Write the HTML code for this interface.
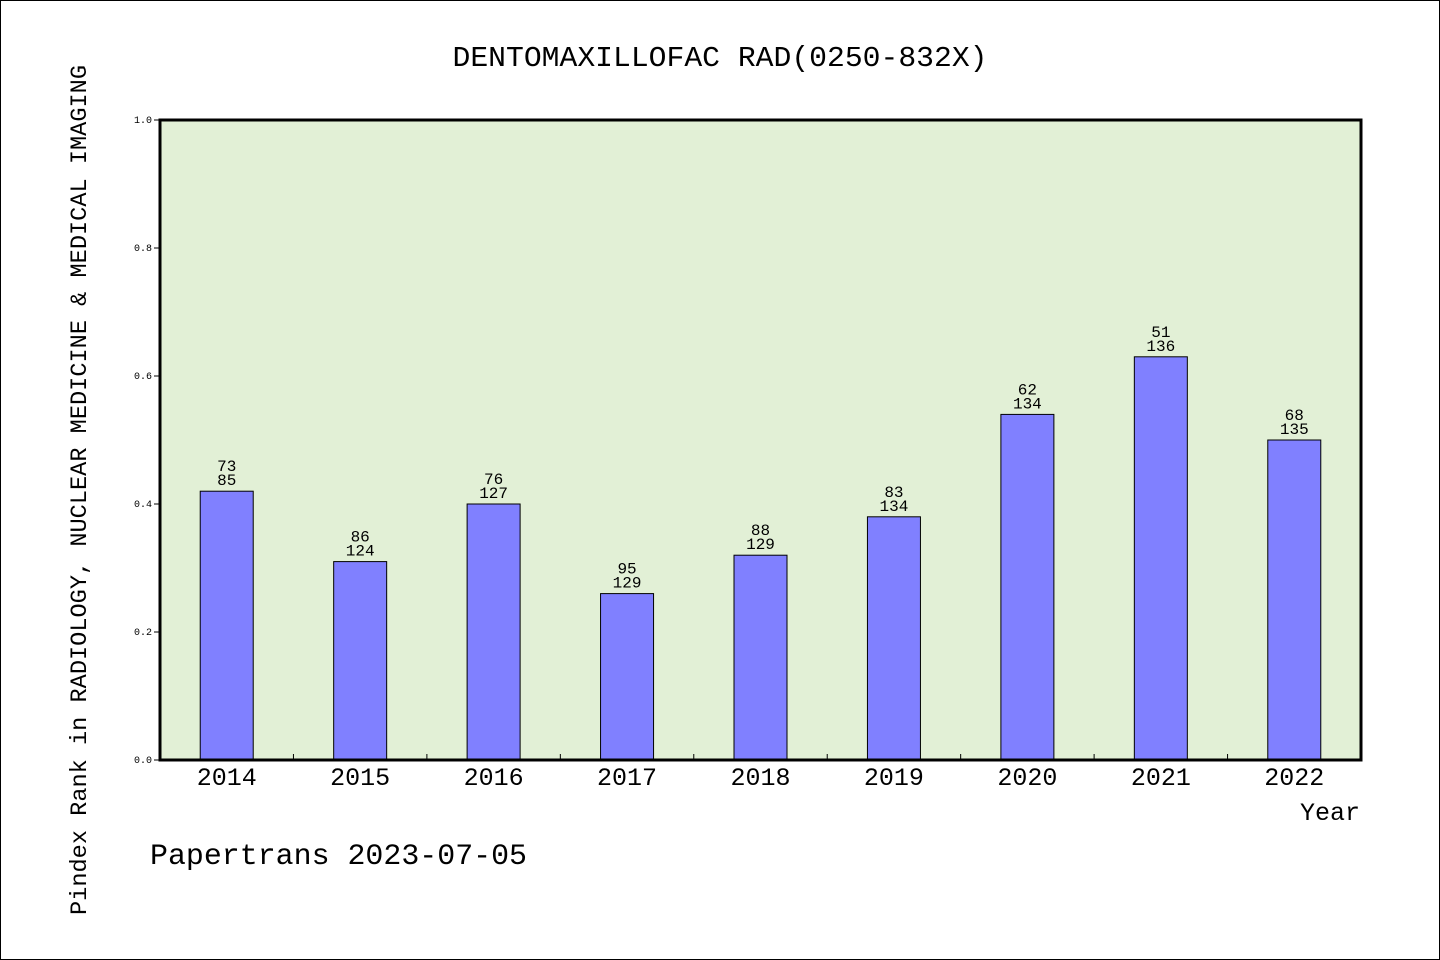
<!DOCTYPE html>
<html><head><meta charset="utf-8"><style>
body{margin:0;background:#fff}
svg{display:block}
text{font-family:"Liberation Mono","DejaVu Sans Mono",monospace;fill:#000}
</style></head><body>
<svg width="1440" height="960">
<rect x="0.5" y="0.5" width="1439" height="959" fill="#fff" stroke="#000"/>
<text x="720" y="66" font-size="29" text-anchor="middle" textLength="535" lengthAdjust="spacingAndGlyphs">DENTOMAXILLOFAC RAD(0250-832X)</text>
<rect x="160" y="120" width="1201" height="640" fill="#e2f0d6"/>
<g id="marks"></g>
<rect x="160" y="120" width="1201" height="640" fill="none" stroke="#000" stroke-width="3"/>
<text x="1330" y="820" font-size="25" text-anchor="middle">Year</text>
<text transform="translate(86,490) rotate(-90)" font-size="23" text-anchor="middle" textLength="850" lengthAdjust="spacingAndGlyphs">Pindex Rank in RADIOLOGY, NUCLEAR MEDICINE &amp; MEDICAL IMAGING</text>
<text x="150" y="864" font-size="30" textLength="377" lengthAdjust="spacingAndGlyphs">Papertrans 2023-07-05</text>
</svg>
<script>
const categories=["2014","2015","2016","2017","2018","2019","2020","2021","2022"];
const values=[0.42,0.31,0.40,0.26,0.32,0.38,0.54,0.63,0.50];
const rankTop=["73","86","76","95","88","83","62","51","68"];
const rankBottom=["85","124","127","129","129","134","134","136","135"];
const yTicks=[0,0.2,0.4,0.6,0.8,1.0];
const X0=160,W=1201,Y0=760,H=640;
const band=W/categories.length;
const x=i=>X0+band*i;
const y=v=>Y0-v*H;
const g=document.getElementById('marks');
const NS="http://www.w3.org/2000/svg";
function mk(t,a){const e=document.createElementNS(NS,t);for(const k in a)e.setAttribute(k,a[k]);g.appendChild(e);return e;}
yTicks.forEach(v=>{
  const l=mk('line',{x1:X0-6,x2:X0,y1:y(v),y2:y(v),stroke:'#000'});
  
  
  const t=mk('text',{x:X0-8,y:y(v)+3,'font-size':10,'text-anchor':'end'});
  t.textContent=v.toFixed(1);
  
  
});
categories.forEach((c,i)=>{
  const cx=x(i)+band/2, bw=53;
  const r=mk('rect',{x:cx-bw/2,y:y(values[i]),width:bw,height:Y0-y(values[i]),fill:'#8080ff',stroke:'#000','stroke-width':1});
  
  
  const t1=mk('text',{x:cx,y:y(values[i])-20,'font-size':16,'text-anchor':'middle'});
  t1.textContent=rankTop[i];
  
  
  const t2=mk('text',{x:cx,y:y(values[i])-6,'font-size':16,'text-anchor':'middle'});
  t2.textContent=rankBottom[i];
  
  
  const xl=mk('text',{x:cx,y:785,'font-size':25,'text-anchor':'middle'});
  xl.textContent=c;
  
  
  if(i>0){
    const tk=mk('line',{x1:x(i),x2:x(i),y1:Y0,y2:Y0-6,stroke:'#000'});
    
    
  }
});
</script>
</body></html>
